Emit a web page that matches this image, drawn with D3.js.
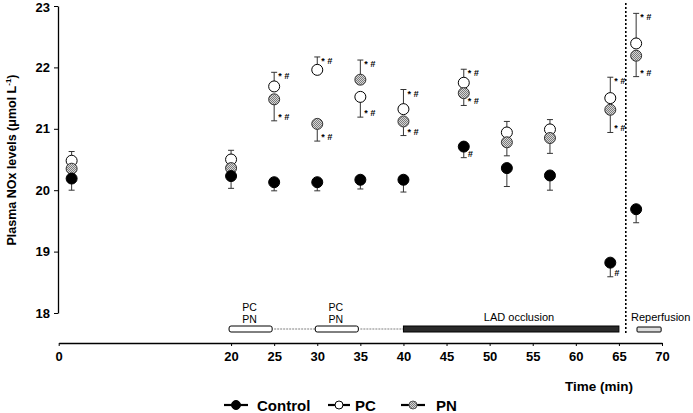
<!DOCTYPE html>
<html><head><meta charset="utf-8">
<script src="https://cdn.jsdelivr.net/npm/d3@7"></script>
<style>
html,body{margin:0;padding:0;background:#fff;}
svg{display:block;font-family:Arial,"Liberation Sans",sans-serif;}
</style></head>
<body><svg id="c" width="693" height="413"></svg>
<script>
// ---- data ----
const times   = [1.5, 20, 25, 30, 35, 40, 47, 52, 57, 64, 67];
const control = [20.19, 20.23, 20.13, 20.13, 20.17, 20.17, 20.71, 20.36, 20.24, 18.82, 19.69];
const controlErr = [0.19, 0.20, 0.14, 0.14, 0.15, 0.20, 0.18, 0.30, 0.24, 0.23, 0.22];
const pc      = [20.48, 20.50, 21.69, 21.96, 21.52, 21.32, 21.75, 20.94, 20.99, 21.50, 22.39];
const pcErr   = [0.15, 0.15, 0.23, 0.21, 0.33, 0.32, 0.22, 0.18, 0.16, 0.34, 0.49];
const pcDir   = [1, 1, 1, 1, -1, 1, 1, 1, 1, 1, 1];
const pn      = [20.35, 20.36, 21.48, 21.08, 21.80, 21.12, 21.58, 20.78, 20.85, 21.31, 22.19];
const pnErr   = [0.10, 0.10, 0.35, 0.28, 0.32, 0.23, 0.20, 0.22, 0.25, 0.37, 0.34];
const pnDir   = [-1, -1, -1, -1, 1, -1, -1, -1, -1, -1, -1];
const pcMark  = ["", "", "*#", "*#", "*#", "*#", "*#", "", "", "*#", "*#"];
const pnMark  = ["", "", "*#", "*#", "*#", "*#", "*#", "", "", "*#", "*#"];
const ctrlMark= ["", "", "", "", "", "", "#", "", "", "#", ""];
const yTicks  = [18, 19, 20, 21, 22, 23];
const xTicks  = [0, 20, 25, 30, 35, 40, 45, 50, 55, 60, 65, 70];
const protocolBoxes = [[20, 25], [30, 35]];
const protocolGaps  = [[25, 30], [35, 40]];
const ladPeriod = [40, 65];
const reperfPeriod = [67.1, 69.9];
const reperfStart = 65.8;
const legendItems = ["Control", "PC", "PN"];

const svg = d3.select("#c");
const x = d3.scaleLinear().domain([0, 70]).range([58.7, 662]);
const y = d3.scaleLinear().domain([18, 23]).range([313, 6]);

// pattern for PN
const defs = svg.append("defs");
const pat = defs.append("pattern").attr("id", "hatch").attr("patternUnits", "userSpaceOnUse")
  .attr("width", 2).attr("height", 2);
pat.append("rect").attr("width", 2).attr("height", 2).attr("fill", "#d8d8d8");
pat.append("rect").attr("width", 1).attr("height", 1).attr("fill", "#7a7a7a");
pat.append("rect").attr("x", 1).attr("y", 1).attr("width", 1).attr("height", 1).attr("fill", "#7a7a7a");

// y axis
const yAxis = svg.append("g").attr("transform", "translate(58,0)")
  .call(d3.axisLeft(y).tickValues(yTicks).tickSize(4).tickSizeOuter(0).tickPadding(4).tickFormat(d3.format("d")));
yAxis.select(".domain").attr("stroke", "#000").attr("stroke-width", 1.3);
yAxis.selectAll("text").attr("font-size", 13).attr("font-weight", "bold").attr("fill", "#000")
  .attr("font-family", "Arial,'Liberation Sans',sans-serif");
yAxis.selectAll(".tick").filter(d => d === 23).select("text").attr("dy", "0.42em");

// x axis
const xAxis = svg.append("g").attr("transform", "translate(0,343)")
  .call(d3.axisBottom(x).tickValues(xTicks).tickSize(3).tickSizeOuter(0).tickPadding(6));
xAxis.select(".domain").attr("stroke", "#000").attr("stroke-width", 1.6);
xAxis.selectAll("text").attr("font-size", 13).attr("font-weight", "bold").attr("fill", "#000")
  .attr("font-family", "Arial,'Liberation Sans',sans-serif");

// axis titles
svg.append("text").attr("transform", "translate(16,160) rotate(-90)").attr("text-anchor", "middle")
  .attr("font-size", 12.5).attr("font-weight", "bold")
  .call(t => {
    t.append("tspan").text("Plasma NOx levels (μmol L");
    t.append("tspan").attr("font-size", 8).attr("dy", -5).text("-1");
    t.append("tspan").attr("dy", 5).text(")");
  });
svg.append("text").attr("x", 599).attr("y", 391).attr("text-anchor", "middle")
  .attr("font-size", 13.5).attr("font-weight", "bold").text("Time (min)");

// protocol bars
svg.selectAll(".gap").data(protocolGaps).enter().append("line")
  .attr("x1", d => x(d[0])).attr("x2", d => x(d[1])).attr("y1", 329).attr("y2", 329)
  .attr("stroke", "#aaa").attr("stroke-width", 1.5).attr("stroke-dasharray", "2,1");
svg.selectAll(".box").data(protocolBoxes).enter().append("rect")
  .attr("x", d => x(d[0]) - 2).attr("width", d => x(d[1]) - x(d[0])).attr("y", 326).attr("height", 6)
  .attr("rx", 2).attr("fill", "#fff").attr("stroke", "#000").attr("stroke-width", 1);
svg.selectAll(".boxlab").data(protocolBoxes).enter().append("text")
  .attr("x", d => (x(d[0]) + x(d[1])) / 2 - 3).attr("y", 311).attr("text-anchor", "middle")
  .attr("font-size", 10.5)
  .call(t => {
    t.append("tspan").text("PC");
    t.append("tspan").attr("x", d => (x(d[0]) + x(d[1])) / 2 - 3).attr("dy", 12).text("PN");
  });
svg.append("rect").attr("x", x(ladPeriod[0])).attr("width", x(ladPeriod[1]) - x(ladPeriod[0]))
  .attr("y", 326).attr("height", 6).attr("fill", "#2a2a2a").attr("stroke", "#000");
svg.append("text").attr("x", 519).attr("y", 321).attr("text-anchor", "middle").attr("font-size", 11)
  .text("LAD occlusion");
svg.append("rect").attr("x", x(reperfPeriod[0])).attr("width", x(reperfPeriod[1]) - x(reperfPeriod[0]))
  .attr("y", 327).attr("height", 5).attr("rx", 1).attr("fill", "#ddd").attr("stroke", "#000");
svg.append("text").attr("x", 631).attr("y", 321).attr("font-size", 11).text("Reperfusion");

// dotted reperfusion line
svg.append("line").attr("x1", x(reperfStart)).attr("x2", x(reperfStart)).attr("y1", 3).attr("y2", 334)
  .attr("stroke", "#000").attr("stroke-width", 1.6).attr("stroke-dasharray", "2,2");

// series drawing
const R = 5.5;
function drawSeries(vals, errs, dirs, marks, fill, stroke) {
  const g = svg.append("g");
  vals.forEach((v, i) => {
    const cx = x(times[i]);
    const end = v + dirs[i] * errs[i];
    g.append("line").attr("x1", cx).attr("x2", cx).attr("y1", y(v)).attr("y2", y(end))
      .attr("stroke", "#333").attr("stroke-width", 1);
    g.append("line").attr("x1", cx - 3).attr("x2", cx + 3).attr("y1", y(end)).attr("y2", y(end))
      .attr("stroke", "#333").attr("stroke-width", 1);
    if (marks[i]) {
      const ty = dirs[i] > 0 ? y(end) + 7 : y(end) - 1;
      const t = g.append("text").attr("x", cx + 4).attr("y", ty).attr("font-size", 9).attr("fill", "#000");
      marks[i].split("").forEach((ch, k) => {
        t.append("tspan").attr("dx", k ? 2.5 : 0).attr("font-weight", "bold")
          .attr("font-style", ch === "#" ? "italic" : "normal").attr("fill", "#000").text(ch);
      });
    }
  });
  g.selectAll("circle").data(vals).enter().append("circle")
    .attr("cx", (d, i) => x(times[i])).attr("cy", d => y(d)).attr("r", R)
    .attr("fill", fill).attr("stroke", stroke).attr("stroke-width", 1);
}
const ctrlDir = control.map(() => -1);
drawSeries(pc, pcErr, pcDir, pcMark, "#fff", "#000");
drawSeries(pn, pnErr, pnDir, pnMark, "url(#hatch)", "#333");
drawSeries(control, controlErr, ctrlDir, ctrlMark, "#000", "#000");

// legend
const legLine = [[224, 248], [328, 350], [401, 425]];
const legFill = ["#000", "#fff", "url(#hatch)"];
const legTextX = [257, 355, 436];
const lg = svg.append("g");
legendItems.forEach((name, i) => {
  const [a, b] = legLine[i];
  lg.append("line").attr("x1", a).attr("x2", b).attr("y1", 405).attr("y2", 405)
    .attr("stroke", "#000").attr("stroke-width", 2.2);
  lg.append("circle").attr("cx", (a + b) / 2).attr("cy", 405).attr("r", i === 0 ? 4.5 : 4)
    .attr("fill", legFill[i]).attr("stroke", i === 2 ? "#555" : "#000");
  lg.append("text").attr("x", legTextX[i]).attr("y", 410.5).attr("font-size", 15).attr("font-weight", "bold")
    .text(name);
});
</script></body></html>
